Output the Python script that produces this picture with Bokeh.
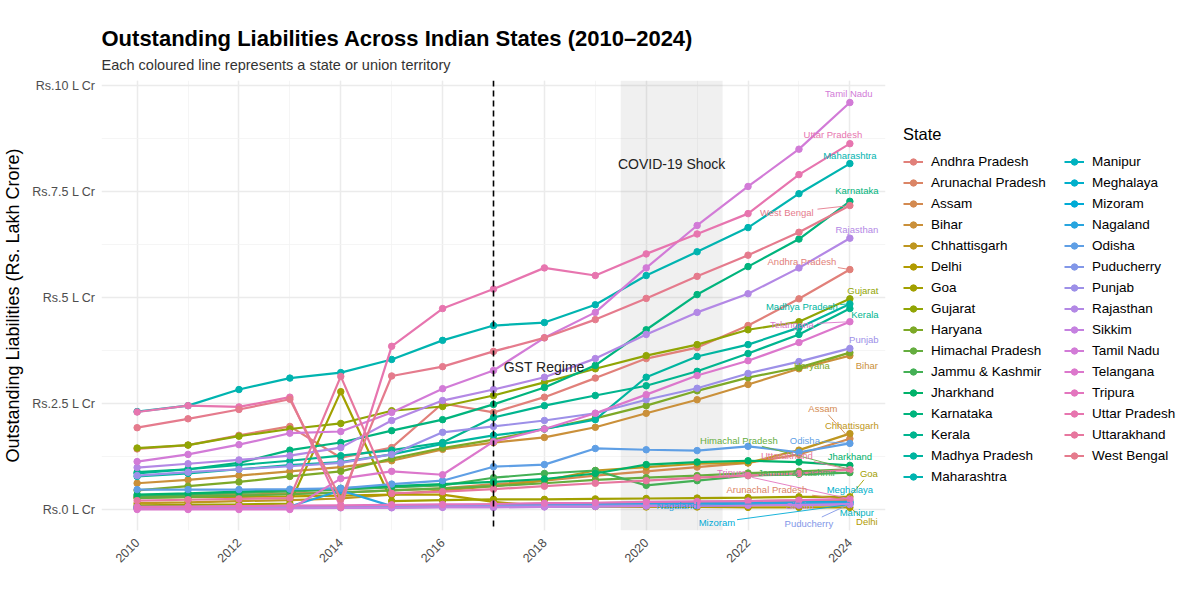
import math
from bokeh.plotting import figure
from bokeh.models import (ColumnDataSource, Legend, LegendItem, Span, BoxAnnotation,
                          Label, Title, FixedTicker)
from bokeh.core.properties import value
from bokeh.embed import file_html
from bokeh.resources import INLINE

# ---- data (Rs. Lakh Crore) ----
years = list(range(2010, 2025))

andhra_pradesh    = [1.43, 1.52, 1.75, 1.96, 1.22, 1.46, 2.50, 2.29, 2.65, 3.10, 3.56, 3.82, 4.34, 4.97, 5.66]
arunachal_pradesh = [0.04, 0.05, 0.05, 0.06, 0.07, 0.08, 0.10, 0.12, 0.14, 0.15, 0.17, 0.18, 0.20, 0.21, 0.22]
assam             = [0.30, 0.32, 0.35, 0.38, 0.40, 0.45, 0.50, 0.60, 0.68, 0.80, 0.90, 1.00, 1.10, 1.30, 1.67]
bihar             = [0.62, 0.70, 0.80, 0.90, 1.00, 1.15, 1.42, 1.58, 1.70, 1.94, 2.27, 2.59, 2.95, 3.32, 3.63]
chhattisgarh      = [0.15, 0.17, 0.20, 0.22, 0.26, 0.35, 0.45, 0.55, 0.68, 0.92, 1.00, 1.08, 1.10, 1.40, 1.79]
delhi             = [0.28, 0.29, 0.30, 0.31, 0.33, 0.35, 0.35, 0.18, 0.08, 0.07, 0.06, 0.06, 0.05, 0.05, 0.05]
goa               = [0.10, 0.11, 0.12, 0.14, 2.78, 0.20, 0.22, 0.24, 0.24, 0.25, 0.26, 0.27, 0.28, 0.30, 0.30]
gujarat           = [1.45, 1.52, 1.73, 1.90, 2.03, 2.33, 2.43, 2.69, 3.00, 3.32, 3.63, 3.89, 4.24, 4.43, 4.97]
haryana           = [0.45, 0.55, 0.65, 0.78, 0.90, 1.20, 1.45, 1.65, 1.90, 2.15, 2.45, 2.80, 3.11, 3.35, 3.70]
himachal_pradesh  = [0.27, 0.30, 0.33, 0.36, 0.40, 0.45, 0.50, 0.55, 0.62, 0.70, 0.75, 0.80, 0.86, 0.90, 0.95]
jammu_kashmir     = [0.32, 0.35, 0.39, 0.43, 0.47, 0.52, 0.57, 0.75, 0.85, 0.92, 0.57, 0.68, 0.80, 0.83, 0.87]
jharkhand         = [0.35, 0.38, 0.42, 0.46, 0.50, 0.55, 0.60, 0.65, 0.72, 0.85, 1.06, 1.12, 1.15, 1.12, 1.04]
karnataka         = [0.88, 0.95, 1.10, 1.40, 1.58, 1.86, 2.12, 2.48, 2.88, 3.40, 4.24, 5.07, 5.73, 6.38, 7.27]
kerala            = [0.85, 0.95, 1.05, 1.15, 1.27, 1.40, 1.58, 2.17, 2.45, 2.69, 2.92, 3.26, 3.68, 4.13, 4.74]
madhya_pradesh    = [0.78, 0.85, 0.95, 1.05, 1.12, 1.30, 1.55, 1.75, 1.90, 2.12, 3.12, 3.61, 3.89, 4.29, 4.85]
maharashtra       = [2.31, 2.45, 2.83, 3.10, 3.23, 3.54, 3.99, 4.34, 4.41, 4.83, 5.52, 6.08, 6.65, 7.45, 8.16]
manipur           = [0.05, 0.05, 0.06, 0.06, 0.07, 0.08, 0.08, 0.09, 0.10, 0.11, 0.12, 0.13, 0.13, 0.14, 0.15]
meghalaya         = [0.04, 0.04, 0.05, 0.05, 0.06, 0.07, 0.08, 0.09, 0.10, 0.11, 0.13, 0.14, 0.15, 0.17, 0.18]
mizoram           = [0.03, 0.03, 0.04, 0.04, 0.05, 0.05, 0.06, 0.06, 0.07, 0.08, 0.09, 0.10, 0.11, 0.11, 0.12]
nagaland          = [0.06, 0.06, 0.07, 0.07, 0.45, 0.08, 0.09, 0.10, 0.11, 0.12, 0.13, 0.14, 0.15, 0.16, 0.17]
odisha            = [0.47, 0.47, 0.47, 0.48, 0.50, 0.60, 0.68, 1.01, 1.06, 1.44, 1.41, 1.39, 1.49, 1.35, 1.56]
puducherry        = [0.05, 0.05, 0.06, 0.06, 0.07, 0.07, 0.08, 0.08, 0.09, 0.09, 0.10, 0.10, 0.11, 0.12, 0.13]
punjab            = [0.80, 0.88, 0.95, 1.02, 1.10, 1.30, 1.82, 1.96, 2.10, 2.27, 2.59, 2.86, 3.21, 3.49, 3.80]
rajasthan         = [0.99, 1.08, 1.17, 1.27, 1.46, 2.10, 2.57, 2.83, 3.12, 3.56, 4.13, 4.65, 5.09, 5.70, 6.40]
sikkim            = [0.02, 0.02, 0.03, 0.03, 0.04, 0.04, 0.05, 0.05, 0.06, 0.07, 0.08, 0.09, 0.10, 0.11, 0.12]
tamil_nadu        = [1.13, 1.30, 1.53, 1.80, 1.84, 2.29, 2.85, 3.28, 4.05, 4.65, 5.70, 6.70, 7.62, 8.50, 9.60]
telangana         = [0.00, 0.00, 0.00, 0.00, 0.73, 0.90, 0.82, 1.60, 1.90, 2.27, 2.71, 3.16, 3.51, 3.94, 4.43]
tripura           = [0.06, 0.07, 0.08, 0.09, 0.10, 0.11, 0.12, 0.13, 0.15, 0.16, 0.18, 0.19, 0.20, 0.22, 0.25]
uttar_pradesh     = [2.30, 2.45, 2.42, 2.65, 0.05, 3.85, 4.74, 5.20, 5.70, 5.52, 6.03, 6.50, 6.98, 7.90, 8.63]
uttarakhand       = [0.21, 0.23, 0.25, 0.27, 3.14, 0.38, 0.42, 0.48, 0.55, 0.62, 0.68, 0.75, 0.80, 0.85, 0.94]
west_bengal       = [1.93, 2.14, 2.36, 2.60, 0.25, 3.15, 3.37, 3.73, 4.05, 4.48, 4.98, 5.50, 6.00, 6.54, 7.17]

states = ["Andhra Pradesh", "Arunachal Pradesh", "Assam", "Bihar", "Chhattisgarh", "Delhi", "Goa",
          "Gujarat", "Haryana", "Himachal Pradesh", "Jammu & Kashmir", "Jharkhand", "Karnataka",
          "Kerala", "Madhya Pradesh", "Maharashtra", "Manipur", "Meghalaya", "Mizoram", "Nagaland",
          "Odisha", "Puducherry", "Punjab", "Rajasthan", "Sikkim", "Tamil Nadu", "Telangana",
          "Tripura", "Uttar Pradesh", "Uttarakhand", "West Bengal"]
series = [andhra_pradesh, arunachal_pradesh, assam, bihar, chhattisgarh, delhi, goa, gujarat,
          haryana, himachal_pradesh, jammu_kashmir, jharkhand, karnataka, kerala, madhya_pradesh,
          maharashtra, manipur, meghalaya, mizoram, nagaland, odisha, puducherry, punjab, rajasthan,
          sikkim, tamil_nadu, telangana, tripura, uttar_pradesh, uttarakhand, west_bengal]

y_ticks = [0, 2.5, 5, 7.5, 10]
y_tick_labels = ["Rs.0 L Cr", "Rs.2.5 L Cr", "Rs.5 L Cr", "Rs.7.5 L Cr", "Rs.10 L Cr"]
x_ticks = [2010, 2012, 2014, 2016, 2018, 2020, 2022, 2024]

GST_YEAR = 2017
COVID_START, COVID_END = 2019.5, 2021.5

# end-label nudges in pixels (dx right, dy up), like ggrepel placed them
label_nudge = {
    "Tamil Nadu": (-1, 9), "Uttar Pradesh": (-17, 9), "Maharashtra": (0, 8), "Karnataka": (7, 11),
    "West Bengal": (-63, -7), "Rajasthan": (7, 9), "Andhra Pradesh": (-48, 8), "Gujarat": (13, 8),
    "Madhya Pradesh": (-48, -3), "Kerala": (15, -6), "Telangana": (-58, -3), "Punjab": (14, 9),
    "Haryana": (-38, -13), "Bihar": (17, -10), "Assam": (-27, 30), "Chhattisgarh": (2, 8),
    "Himachal Pradesh": (-111, 29), "Odisha": (-45, 3), "Jharkhand": (0, 9), "Uttarakhand": (-63, 14),
    "Jammu & Kashmir": (-53, 0), "Tripura": (-118, 26), "Goa": (19, 23), "Arunachal Pradesh": (-83, 11),
    "Meghalaya": (0, 12), "Nagaland": (-173, -3), "Sikkim": (-50, -1), "Manipur": (7, -9),
    "Mizoram": (-133, -18), "Puducherry": (-41, -19), "Delhi": (17, -14),
}


def hcl_hex(h, c=72.0, l=64.0):
    # polar LUV -> sRGB, as R's hcl() behind ggplot's hue palette
    un, vn = 0.1978398, 0.4683363
    hr = math.radians(h)
    u, v = c * math.cos(hr), c * math.sin(hr)
    Y = 100.0 * ((l + 16) / 116) ** 3
    up = u / (13 * l) + un
    vp = v / (13 * l) + vn
    X = 9.0 * Y * up / (4 * vp)
    Z = -X / 3 - 5 * Y + 3 * Y / vp
    rgb = [(3.240479 * X - 1.537150 * Y - 0.498535 * Z) / 100,
           (-0.969256 * X + 1.875992 * Y + 0.041556 * Z) / 100,
           (0.055648 * X - 0.204043 * Y + 1.057311 * Z) / 100]
    out = []
    for ch in rgb:
        ch = min(max(ch, 0), 1)
        ch = 12.92 * ch if ch <= 0.0031308 else 1.055 * ch ** (1 / 2.4) - 0.055
        out.append(int(round(min(max(ch, 0), 1) * 255)))
    return "#%02x%02x%02x" % tuple(out)


n = len(states)
colors = [hcl_hex(15 + i * 360.0 / n) for i in range(n)]

FONT = "Liberation Sans"
X_RANGE = (2009.3, 2024.7)
Y_RANGE = (-0.495, 10.12)
FRAME_W, FRAME_H = 784, 450
px_x = FRAME_W / (X_RANGE[1] - X_RANGE[0])
px_y = FRAME_H / (Y_RANGE[1] - Y_RANGE[0])

p = figure(frame_width=FRAME_W, frame_height=FRAME_H, x_range=X_RANGE, y_range=Y_RANGE,
           output_backend="svg", toolbar_location=None,
           min_border_left=96, min_border_right=0, min_border_top=80, min_border_bottom=46,
           background_fill_color="white", border_fill_color="white", outline_line_color=None)

# titles, stacked outward from the plot: spacer, subtitle, title
p.add_layout(Title(text=" ", text_font=FONT, text_font_size="3px", standoff=0), "above")
p.add_layout(Title(text="Each coloured line represents a state or union territory",
                   text_font=FONT, text_font_size="14.5px", text_font_style="normal",
                   text_color="#333333", standoff=6), "above")
p.add_layout(Title(text="Outstanding Liabilities Across Indian States (2010\u20132024)",
                   text_font=FONT, text_font_size="22px", text_font_style="bold",
                   text_color="black", standoff=2), "above")

# axes / grid in the style of theme_minimal
p.xaxis.ticker = FixedTicker(ticks=x_ticks, minor_ticks=list(range(2009, 2025)))
p.yaxis.ticker = FixedTicker(ticks=y_ticks, minor_ticks=[1.25, 3.75, 6.25, 8.75])
p.yaxis.major_label_overrides = {t: s for t, s in zip(y_ticks, y_tick_labels)}
p.xaxis.major_label_orientation = math.pi / 4
for ax in (p.xaxis, p.yaxis):
    ax.axis_line_color = None
    ax.major_tick_line_color = None
    ax.minor_tick_line_color = None
    ax.major_label_text_font = FONT
    ax.major_label_text_font_size = "12.5px"
    ax.major_label_text_color = "#4d4d4d"
p.xaxis.major_label_standoff = 4
p.yaxis.major_label_standoff = 0
p.yaxis.axis_label = "Outstanding Liabilities (Rs. Lakh Crore)"
p.yaxis.axis_label_text_font = FONT
p.yaxis.axis_label_text_font_size = "18px"
p.yaxis.axis_label_text_font_style = "normal"
p.yaxis.axis_label_text_color = "black"
p.yaxis.axis_label_standoff = 6
p.grid.grid_line_color = "#ebebeb"
p.grid.grid_line_width = 1.5
p.grid.minor_grid_line_color = "#f2f2f2"
p.grid.minor_grid_line_width = 0.8

# COVID shading and GST marker
p.add_layout(BoxAnnotation(left=COVID_START, right=COVID_END, fill_color="grey",
                           fill_alpha=0.12, line_color=None, level="underlay"))
p.add_layout(Label(x=(COVID_START + COVID_END) / 2, y=8.16, text="COVID-19 Shock",
                   text_font=FONT, text_font_size="14px", text_color="#222222",
                   text_align="center", text_baseline="middle"))
p.add_layout(Span(location=GST_YEAR, dimension="height", line_color="black",
                  line_dash="6 4", line_width=1.6))
p.add_layout(Label(x=GST_YEAR + 0.2, y=3.35, text="GST Regime", text_font=FONT,
                   text_font_size="14px", text_color="#222222", text_baseline="middle"))

items = []
lab = {"x": [], "y": [], "text": [], "color": []}
seg = {"x0": [], "y0": [], "x1": [], "y1": [], "color": []}
for name, vals, col in zip(states, series, colors):
    src = ColumnDataSource(data={"year": years, "val": vals})
    ln = p.line("year", "val", source=src, line_color=col, line_width=2.2)
    pt = p.scatter("year", "val", source=src, size=6.5, fill_color=col, line_color=col)
    items.append(LegendItem(label=name, renderers=[ln, pt]))

    dx, dy = label_nudge[name]
    lab["x"].append(years[-1] + dx / px_x)
    lab["y"].append(vals[-1] + dy / px_y)
    lab["text"].append(name)
    lab["color"].append(col)
    # leader segment from the point to the label box edge when the label sits away
    hw, hh = len(name) * 2.6 + 2, 6.0
    vx, vy = -dx, -dy
    if abs(vx) > hw or abs(vy) > hh:
        t = min(hw / abs(vx) if vx else 1e9, hh / abs(vy) if vy else 1e9)
        if math.hypot(vx, vy) * (1 - t) > 8:
            ex, ey = dx + t * vx, dy + t * vy
            seg["x0"].append(years[-1])
            seg["y0"].append(vals[-1])
            seg["x1"].append(years[-1] + ex / px_x)
            seg["y1"].append(vals[-1] + ey / px_y)
            seg["color"].append(col)

p.segment("x0", "y0", "x1", "y1", source=ColumnDataSource(seg), line_color="color",
          line_width=0.9)
p.text("x", "y", text="text", source=ColumnDataSource(lab), text_color="color",
       text_font=value(FONT), text_font_size="9.5px", text_align="center",
       text_baseline="middle")

legend = Legend(items=items, location="center_left", ncols=2, orientation="vertical",
                title="State",
                title_text_font=FONT, title_text_font_size="16.5px", title_text_color="black",
                title_text_font_style="normal", title_standoff=8,
                label_text_font=FONT, label_text_font_size="13.5px", label_text_color="black",
                glyph_width=20, glyph_height=16, label_height=19, label_width=131, spacing=2,
                label_standoff=8, padding=6, margin=12, border_line_alpha=0,
                background_fill_alpha=0)
p.add_layout(legend, "right")

open("out.html", "w").write(file_html(p, INLINE))
